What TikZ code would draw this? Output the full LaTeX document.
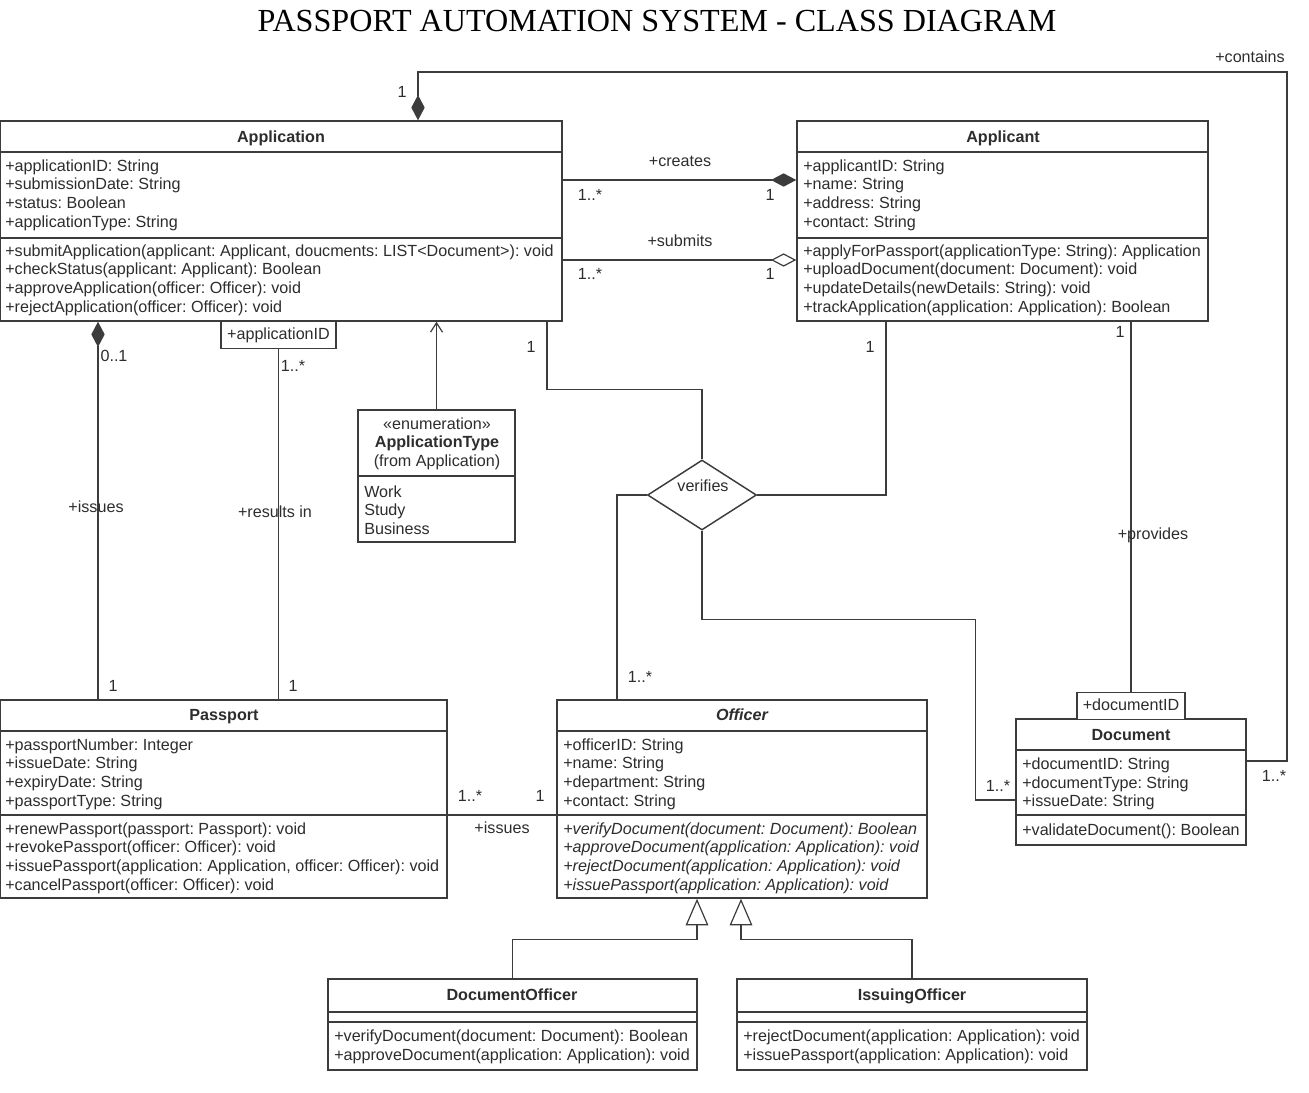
\documentclass[tikz,border=0pt]{standalone}
\usepackage{fontspec}
\setmainfont{Liberation Sans}
\newfontfamily\titlefont{Liberation Serif}
\definecolor{InkGray}{RGB}{45,45,45}
\definecolor{LineGray}{RGB}{60,60,60}
\usetikzlibrary{positioning,arrows.meta,shapes.geometric,fit,calc}
\frenchspacing

\begin{document}
\begin{tikzpicture}[x=0.75pt, y=-0.75pt,
    every node/.style={font=\fontsize{12.1}{14}\selectfont, text=InkGray, inner sep=0pt},
    cls/.style   ={draw=LineGray, line width=1.1pt, fill=white},
    sep/.style   ={draw=LineGray, line width=1.1pt},
    lbl/.style   ={text height=8.7pt, text depth=2.4pt},
    ctitle/.style={lbl, font=\fontsize{12.1}{14}\selectfont\bfseries},
    mem/.style   ={anchor=west, align=left},
    qual/.style  ={lbl, draw=LineGray, line width=1.1pt, fill=white, minimum height=20pt, inner xsep=4.5pt},
    link/.style  ={draw=LineGray, line width=0.9pt},
    comp/.style  ={link, {Diamond[length=19pt, width=10pt]}-},
    aggr/.style  ={link, {Diamond[open, fill=white, length=19pt, width=10pt]}-},
    gen/.style   ={link, -{Triangle[open, fill=white, length=20pt, width=17pt]}},
    nav/.style   ={link, -{Straight Barb[length=7pt, width=9pt]}},
    verb/.style  ={diamond, draw=LineGray, line width=1.1pt, fill=white, minimum width=81.75pt, minimum height=52.5pt},
  ]
  \useasboundingbox (0,0) rectangle (1309,1092);

  % ─ Title ─
  \node[font=\titlefont\fontsize{24.1}{28}\selectfont, text=black] (title) at (657,21)
        {PASSPORT AUTOMATION SYSTEM - CLASS DIAGRAM};

  % ─ Application ─
  \node[cls, fit={(0,121) (562,321)}] (app) {};
  \node[ctitle] (appT) at (281,138) {Application};
  \draw[sep] (0,152) -- (562,152);
  \draw[sep] (0,238) -- (562,238);
  \node[mem] (appA) at (5,195) {+applicationID: String\\+submissionDate: String\\+status: Boolean\\+applicationType: String};
  \node[mem] (appM) at (5,280) {+submitApplication(applicant: Applicant, doucments: LIST<Document>): void\\+checkStatus(applicant: Applicant): Boolean\\+approveApplication(officer: Officer): void\\+rejectApplication(officer: Officer): void};
  \node[qual] (appQ) at (278.5,335) {+applicationID};

  % ─ Applicant ─
  \node[cls, fit={(797,121) (1208,321)}] (apl) {};
  \node[ctitle] (aplT) at (1003,138) {Applicant};
  \draw[sep] (797,152) -- (1208,152);
  \draw[sep] (797,238) -- (1208,238);
  \node[mem] (aplA) at (803,195) {+applicantID: String\\+name: String\\+address: String\\+contact: String};
  \node[mem] (aplM) at (803,280) {+applyForPassport(applicationType: String): Application\\+uploadDocument(document: Document): void\\+updateDetails(newDetails: String): void\\+trackApplication(application: Application): Boolean};

  % ─ ApplicationType (enumeration) ─
  \node[cls, fit={(358,410) (515,542)}] (enum) {};
  \node[lbl] (enumS) at (437,425) {«enumeration»};
  \node[ctitle] (enumT) at (437,443) {ApplicationType};
  \node[lbl] (enumF) at (437,462) {(from Application)};
  \draw[sep] (358,476) -- (515,476);
  \node[mem] (enumL) at (364,510) {Work\\Study\\Business};

  % ─ Passport ─
  \node[cls, fit={(0,700) (447,898)}] (pass) {};
  \node[ctitle] (passT) at (224,716) {Passport};
  \draw[sep] (0,731) -- (447,731);
  \draw[sep] (0,815) -- (447,815);
  \node[mem] (passA) at (5,774) {+passportNumber: Integer\\+issueDate: String\\+expiryDate: String\\+passportType: String};
  \node[mem] (passM) at (5,858) {+renewPassport(passport: Passport): void\\+revokePassport(officer: Officer): void\\+issuePassport(application: Application, officer: Officer): void\\+cancelPassport(officer: Officer): void};

  % ─ Officer (abstract) ─
  \node[cls, fit={(557,700) (927,898)}] (off) {};
  \node[ctitle, font=\fontsize{12.1}{14}\selectfont\bfseries\itshape] (offT) at (742,716) {Officer};
  \draw[sep] (557,731) -- (927,731);
  \draw[sep] (557,815) -- (927,815);
  \node[mem] (offA) at (563,774) {+officerID: String\\+name: String\\+department: String\\+contact: String};
  \node[mem, font=\fontsize{12.1}{14}\selectfont\itshape] (offM) at (563,858) {+verifyDocument(document: Document): Boolean\\+approveDocument(application: Application): void\\+rejectDocument(application: Application): void\\+issuePassport(application: Application): void};

  % ─ Document ─
  \node[cls, fit={(1016,719) (1246,845)}] (doc) {};
  \node[ctitle] (docT) at (1131,736) {Document};
  \draw[sep] (1016,750) -- (1246,750);
  \draw[sep] (1016,815) -- (1246,815);
  \node[mem] (docA) at (1022,784) {+documentID: String\\+documentType: String\\+issueDate: String};
  \node[mem] (docM) at (1022,831) {+validateDocument(): Boolean};
  \node[qual] (docQ) at (1131,706) {+documentID};

  % ─ DocumentOfficer / IssuingOfficer ─
  \node[cls, fit={(328,979) (697,1070)}] (dOff) {};
  \node[ctitle] (dOffT) at (512,996) {DocumentOfficer};
  \draw[sep] (328,1012) -- (697,1012);
  \draw[sep] (328,1022) -- (697,1022);
  \node[mem] (dOffM) at (334,1047) {+verifyDocument(document: Document): Boolean\\+approveDocument(application: Application): void};

  \node[cls, fit={(737,979) (1087,1070)}] (iOff) {};
  \node[ctitle] (iOffT) at (912,996) {IssuingOfficer};
  \draw[sep] (737,1012) -- (1087,1012);
  \draw[sep] (737,1022) -- (1087,1022);
  \node[mem] (iOffM) at (743,1047) {+rejectDocument(application: Application): void\\+issuePassport(application: Application): void};

  % ─ verifies (n-ary association) ─
  \node[verb] (verif) at (702,495) {};
  \node[lbl] (verifT) at (703,487) {verifies};

  % ─ Application contains Document ─
  \coordinate (cTop) at (1287,72);
  \draw[comp] ($(app.north)+(137,0)$) |- (cTop) |- ($(doc.east)+(0,-21)$);
  \node[lbl] (m1) at (402,93) {1};
  \node[lbl] (r1) at (1250,58) {+contains};
  \node[lbl] (m2) at (1274,777) {1..*};

  % ─ Applicant creates / submits Application ─
  \draw[comp] ($(apl.west)+(0,-41)$) -- ($(app.east)+(0,-41)$);
  \node[lbl] (r2) at (680,162) {+creates};
  \node[lbl] (m3) at (590,196) {1..*};
  \node[lbl] (m4) at (770,196) {1};
  \draw[aggr] ($(apl.west)+(0,39)$) -- ($(app.east)+(0,39)$);
  \node[lbl] (r3) at (680,242) {+submits};
  \node[lbl] (m5) at (590,275) {1..*};
  \node[lbl] (m6) at (770,275) {1};

  % ─ Application issues / results in Passport ─
  \coordinate (issA) at ($(app.south)+(-183,0)$);
  \draw[comp] (issA) -- (issA |- pass.north);
  \node[lbl] (m7) at (114,357) {0..1};
  \node[lbl] (r4) at (96,508) {+issues};
  \node[lbl] (m8) at (113,687) {1};
  \draw[link] (appQ.south) -- (appQ.south |- pass.north);
  \node[lbl] (m9) at (293,367) {1..*};
  \node[lbl] (r5) at (275,513) {+results in};
  \node[lbl] (m10) at (293,687) {1};

  % ─ ApplicationType -> Application ─
  \draw[nav] (enum.north) -- (enum.north |- app.south);

  % ─ verifies legs ─
  \draw[link] ($(app.south)+(266,0)$) |- ($(verif.north)+(0,-70)$) -- (verif.north);
  \node[lbl] (m11) at (531,348) {1};
  \draw[link] ($(apl.south)+(-116.5,0)$) |- (verif.east);
  \node[lbl] (m12) at (870,348) {1};
  \draw[link] (verif.west) -| ($(off.north)+(-125,0)$);
  \node[lbl] (m13) at (640,678) {1..*};
  \draw[link] (verif.south) -- ($(verif.south)+(0,89)$) -| ($(doc.west)+(-40,18)$) -- ($(doc.west)+(0,18)$);
  \node[lbl] (m14) at (998,787) {1..*};

  % ─ Applicant provides Document ─
  \draw[link] (docQ.north |- apl.south) -- (docQ.north);
  \node[lbl] (m15) at (1120,333) {1};
  \node[lbl] (r6) at (1153,535) {+provides};

  % ─ Officer issues Passport ─
  \draw[link] ($(pass.east)+(0,16)$) -- ($(off.west)+(0,16)$);
  \node[lbl] (m16) at (470,797) {1..*};
  \node[lbl] (m17) at (540,797) {1};
  \node[lbl] (r7) at (502,829) {+issues};

  % ─ Generalisation ─
  \draw[gen] (dOff.north) |- ($(off.south)+(-45,41)$) -- ($(off.south)+(-45,0)$);
  \draw[gen] (iOff.north) |- ($(off.south)+(-1,41)$) -- ($(off.south)+(-1,0)$);
\end{tikzpicture}
\end{document}
